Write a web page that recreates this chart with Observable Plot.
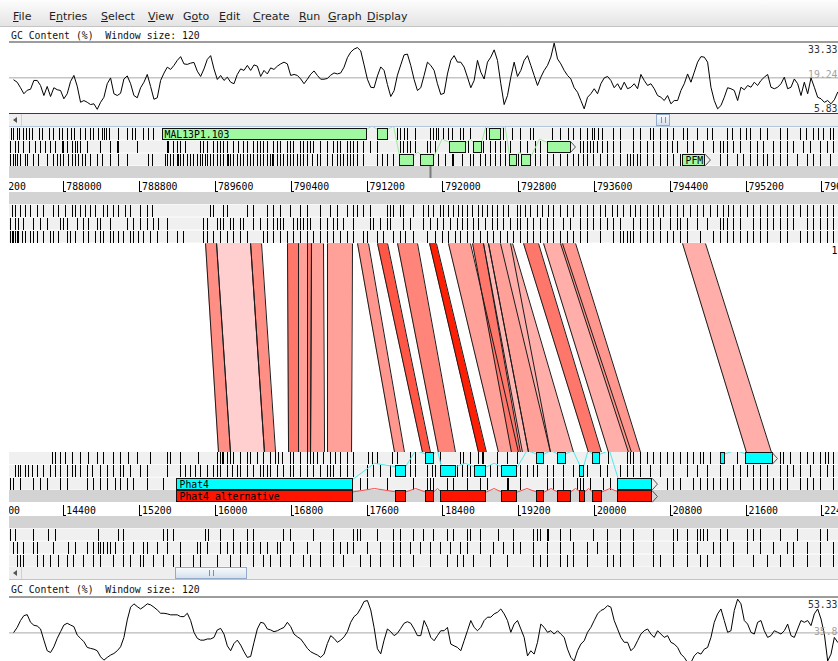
<!DOCTYPE html>
<html>
<head>
<meta charset="utf-8">
<script src="https://cdn.jsdelivr.net/npm/d3@7"></script>
<script src="https://cdn.jsdelivr.net/npm/@observablehq/plot@0.6"></script>
<style>
  html, body { margin:0; padding:0; background:#fff; overflow:hidden; width:838px; height:661px; }
  #root { position:relative; width:838px; height:661px; overflow:hidden; background:#fff; }
  .abs { position:absolute; left:0; }
  #menu { top:0; width:838px; height:27px; background:linear-gradient(#fdfdfd, #e4e4e4); border-bottom:1px solid #c4c4c4; box-sizing:border-box; font-family:"DejaVu Sans"; font-size:11px; color:#1e1e1e; }
  #menu span { position:absolute; top:10px; line-height:13px; letter-spacing:0; white-space:pre; }
  .gclabel { font-family:"DejaVu Sans Mono"; font-size:9.8px; line-height:12px; color:#111; white-space:pre; left:11px; }
  .scroll { left:9px; width:829px; height:13px; background:#eeeeee; border-bottom:1px solid #b4c6dc; box-sizing:border-box; }
  .scroll .btn { position:absolute; left:0; top:0; width:13px; height:12px; border-right:1px solid #c8d2de; box-sizing:border-box; }
  .scroll .btn i { position:absolute; left:4px; top:3px; width:0; height:0; border-top:3px solid transparent; border-bottom:3px solid transparent; border-right:4px solid #555; }
  .thumb { position:absolute; top:0; height:12px; background:linear-gradient(#f7fafd,#d6e0ec); border:1px solid #93abcb; box-sizing:border-box; }
  .grip { position:absolute; top:2px; width:3px; height:6px; border-left:1px solid #7a90ae; border-right:1px solid #7a90ae; }
  svg.plot, svg { display:block; }
</style>
</head>
<body>
<div id="root"></div>
<script>
// ---------------- menu / labels ----------------
const menuItems = ["File","Entries","Select","View","Goto","Edit","Create","Run","Graph","Display"];
const menuMnemonic = [0,1,0,0,1,0,0,0,0,0];
const menuLeft = [13,49,101,148,183,219,253,299,328,367];
const gcTitle = "GC Content (%)  Window size: 120";

// ---------------- views (bp) ----------------
const topView = [787332, 796176];      // MAL13 region shown in the upper sequence
const bottomView = [13732, 22576];     // Phat4 contig shown in the lower sequence
const topTicks = [787200,788000,788800,789600,790400,791200,792000,792800,793600,794400,795200,796000];
const bottomTicks = [13600,14400,15200,16000,16800,17600,18400,19200,20000,20800,21600,22400];
const topMarker = [791870];

// ---------------- GC content (%) ----------------
const gcStep = 35.2;
const gcTopFirst = 787473;
const gcTopLabels = [33.33, 19.24, 5.83];
const gcTop = [
18.4,17.5,15.3,12.9,14.3,14.7,18.2,18.2,16.2,12.2,
15.8,11.8,15.3,14.5,14.2,10.9,12.9,17.8,20.2,15.9,
9.5,10.2,9.5,8.6,8.9,6.7,9.5,11.5,16.9,19.2,
12.9,12.2,13.1,18.8,20.0,16.9,12.2,11.3,15.3,17.5,
20.6,15.8,10.7,11.3,18.2,21.1,23.5,22.6,24.2,26.2,
27.7,24.8,24.6,25.1,25.4,21.9,19.8,22.8,26.6,28.1,
22.8,18.6,20.2,18.2,19.5,17.5,16.9,20.6,22.8,22.2,
24.2,22.2,24.4,23.9,19.8,22.2,20.8,23.2,22.6,23.9,
24.8,25.5,24.8,20.2,20.6,20.2,18.8,16.9,18.7,20.7,
22.0,20.2,18.7,18.7,19.0,20.3,21.2,20.8,21.2,23.5,
27.3,29.5,30.7,31.3,30.0,24.4,18.7,15.5,15.3,20.0,
23.6,22.2,16.6,11.8,14.1,20.3,24.4,28.4,28.7,24.2,
18.6,14.2,
15.3,20.2,25.5,24.2,22.2,16.9,12.6,13.1,20.8,26.2,
28.1,25.5,25.5,23.5,19.5,15.3,18.2,26.2,21.5,18.8,
25.5,27.5,30.4,26.2,16.9,8.6,12.2,19.5,25.5,19.8,
22.2,26.2,28.1,24.2,20.2,16.2,19.5,22.2,24.2,27.5,
33.1,26.8,24.8,22.2,20.2,18.8,15.3,13.5,10.2,6.9,
11.5,12.9,14.9,12.9,16.9,19.2,19.8,18.2,15.3,16.9,
14.5,17.5,14.9,15.5,16.9,14.9,20.6,18.2,16.2,16.9,
14.9,12.2,11.5,10.2,12.2,8.9,10.2,10.2,14.2,16.9,
20.8,17.5,21.5,25.5,27.7,27.5,25.5,15.5,10.2,6.9,
8.2,11.5,15.3,14.9,14.2,10.2,15.5,14.5,16.2,15.5,
17.5,16.2,18.2,19.5,20.6,15.5,14.9,15.5,16.9,19.5,
14.9,15.5,18.8,16.9,12.2,17.5,12.9,19.2,15.5,11.5,
10.9,9.5,10.2,8.9,10.5,13.5];
const gcBottomFirst = 13873;
const gcBottomLabels = [53.33, 35.8, 18.16];
const gcBottom = [
36.1,38.6,42.1,44.6,45.1,41.2,39.7,39.3,37.8,32.1,
26.7,25.8,28.7,33.0,36.4,39.8,40.7,39.8,39.0,34.7,
33.0,31.3,28.4,27.9,27.5,26.7,23.6,21.9,23.3,24.5,
25.3,26.7,28.7,33.5,42.4,48.9,50.6,49.2,48.0,49.2,
50.6,50.1,48.9,47.5,45.8,45.8,45.5,45.0,45.0,45.0,
44.1,44.1,45.8,42.1,36.1,33.0,32.1,32.1,32.7,32.7,
33.5,37.3,38.1,35.2,29.2,26.7,30.4,32.1,29.6,26.2,
23.3,23.8,31.0,37.8,41.2,40.7,37.8,37.3,36.4,36.9,
37.8,38.6,41.2,39.0,35.2,33.8,32.7,30.4,27.9,26.2,
25.3,24.5,23.3,25.0,30.4,34.4,33.0,31.0,32.1,33.8,
36.4,41.2,44.1,45.5,48.4,51.8,52.3,47.5,38.6,27.7,
25.1,32.1,37.8,36.4,34.4,35.6,38.1,40.7,41.5,40.7,
37.8,34.4,
34.4,42.1,38.6,33.5,31.8,34.4,36.9,36.9,38.6,30.1,
29.2,28.4,26.7,31.8,36.9,42.1,38.6,36.9,38.6,42.1,
43.8,43.8,45.5,46.3,48.0,45.5,42.1,36.1,40.3,42.1,
37.8,33.5,24.1,26.7,25.0,31.0,40.3,38.6,36.1,36.9,
35.2,36.9,35.2,33.5,27.5,23.3,21.5,26.7,30.1,31.8,
36.1,38.6,42.1,45.5,47.2,48.0,49.7,48.9,42.1,37.8,
33.5,31.0,31.0,26.7,28.4,31.8,35.2,36.9,37.8,35.2,
33.5,36.9,35.2,33.5,34.4,31.0,30.1,28.4,25.0,23.3,
20.7,20.7,24.1,25.8,25.0,27.5,28.4,33.5,41.2,45.5,
48.0,42.1,36.1,36.9,47.2,53.0,50.6,42.1,40.3,36.1,
35.2,41.2,42.1,36.9,33.5,34.4,36.9,36.1,35.2,36.9,
40.3,34.4,33.5,37.8,42.1,41.2,42.1,39.5,45.5,48.0,
42.9,35.2,21.5,25.0,33.5,31.0];

// ---------------- stop codons: bp offsets from the view start ----------------
const topFwd1 = [116,137,179,201,243,274,306,338,412,443,517,559,623,654,707,749,781,844,897,950,982,1034,1077,1098,1119,1150,1245,1340,1393,1425,1509,1562,1615,4190,4222,4264,4296,4380,4538,4570,4601,4622,4676,4728,4770,4855,4887,4960,5129,5309,5404,5488,5594,5626,5826,5910,5995,6048,6121,6195,6248,6269,6311,6353,6470,6543,6681,6755,6860,6892,6966,7040,7103,7208,7250,7356,7462,7515,7673,7725,7810,7873,7916,8021,8095,8232,8306,8443,8507,8580,8633,8686,8760,8792];
const topFwd2 = [106,158,190,243,306,369,422,475,528,580,654,665,707,760,792,813,844,918,1055,1161,1235,1245,1446,1763,1773,1826,1868,1900,1953,2111,2143,2185,2248,2290,2322,2354,2396,2459,2512,2565,2607,2671,2713,2744,2776,2818,2882,2924,2955,3029,3061,3093,3166,3198,3240,3272,3304,3377,3451,3515,3557,3588,3662,3694,3726,3768,3831,3905,3979,4222,4254,4296,4327,4380,4507,4538,4591,4939,5097,5171,5224,5277,5330,5383,5488,5562,5646,5699,6121,6153,6195,6227,6259,6301,6353,6406,6470,6543,6681,6755,6829,6892,6966,7040,7092,7145,7250,7314,7420,7525,7599,7631,7673,7736,7810,7916,7990,8053,8158,8232,8306,8370,8475,8549,8654,8728,8792];
const topFwd3 = [106,137,158,179,211,264,285,348,401,496,559,602,633,665,718,760,792,823,865,897,950,1024,1077,1161,1245,1340,1562,1604,1741,1763,1794,1826,1868,1879,1900,1932,1974,2005,2037,2079,2111,2132,2164,2185,2216,2248,2290,2322,2354,2396,2406,2427,2459,2501,2533,2565,2607,2639,2671,2713,2744,2776,2818,2850,2871,2882,2924,2955,2987,3029,3061,3093,3135,3166,3198,3240,3293,3346,3377,3451,3504,3557,3588,3620,3662,3694,3726,3768,3831,3979,4032,4085,4148,4622,4697,4770,4781,4876,4960,4992,5066,5119,5171,5224,5277,5330,5467,5646,5699,5773,5836,5910,5984,6048,6100,6153,6195,6259,6332,6406,6470,6543,6617,6649,6681,6723,6755,6829,6892,6966,7040,7103,7177,7599,7673,7778,7841,7916,7990,8053,8095,8158,8232,8306,8412,8517,8580,8654,8760];
const topRev1 = [127,158,211,264,317,391,454,559,612,686,760,792,844,897,950,1003,1087,1129,1193,1245,1319,1372,1478,1551,1604,2216,2248,2354,2396,2607,2671,2818,2882,2955,3061,3166,3240,3377,3483,3557,3662,3726,3768,3831,3905,4085,4116,4148,4222,4254,4359,4465,4517,4570,4644,4676,4728,4781,4834,4876,4929,4982,5045,5087,5140,5193,5245,5309,5361,5456,5488,5541,5594,5668,5720,5784,5836,5910,5984,6048,6121,6195,6259,6332,6385,6459,6512,6575,6649,6702,6755,6829,6892,6945,6998,7071,7145,7208,7282,7356,7420,7493,7567,7631,7683,7736,7810,7884,7947,8021,8095,8158,8232,8306,8370,8443,8517,8580,8654,8728,8792];
const topRev2 = [106,158,190,243,348,422,496,633,665,707,813,876,929,1024,1055,1161,1340,1404,1478,1551,1615,1668,1763,2143,2185,2290,2322,2354,2427,2459,2533,2565,2671,2744,2818,2882,2924,2955,2987,3093,3135,3166,3198,3240,3272,3377,3451,3515,3557,3620,3726,3905,3937,4011,4085,4116,4254,4327,4465,4538,4612,4676,4749,4823,4876,4929,4992,5045,5119,5193,5245,5309,5383,5456,5488,5562,5626,5699,5773,5836,5942,6016,6121,6195,6259,6332,6406,6470,6543,6681,6755,6829,6892,6966,7071,7145,7177,7250,7356,7462,7599,7631,7673,7736,7810,7947,8021,8095,8158,8232,8306,8370,8517,8580,8654,8728,8792];
const topRev3 = [106,127,137,158,179,190,232,264,317,348,391,454,528,559,612,707,739,792,876,929,1003,1055,1087,1161,1193,1245,1298,1372,1404,1456,1509,1583,1657,1763,1868,1932,2143,2185,2248,2322,2396,2459,2533,2607,2776,2818,2882,2955,3029,3093,3166,3240,3304,3377,3451,3515,3588,3662,3726,3831,3873,3979,4043,4148,4222,4275,4359,4507,4591,4665,4728,4802,4855,4929,4992,5066,5140,5203,5277,5351,5414,5488,5562,5626,5699,5773,5836,5910,5984,6048,6121,6195,6332,6470,6543,6575,6617,6649,6681,6755,6829,6892,6966,7040,7103,7177,7250,7388,7525,7599,7673,7736,7810,7884,7947,8021,8095,8232,8306,8443,8517,8580,8654,8728,8792];
const botFwd1 = [549,580,633,686,760,844,929,1024,1087,1193,1266,1351,1446,1583,1763,1794,1900,2090,2290,2322,2343,2354,2396,2427,2459,2533,2607,2639,2713,2776,2850,2903,2934,2976,3061,3093,3166,3240,3272,3304,3346,3409,3483,3536,3588,3662,3726,3884,3926,3979,4137,4190,4327,4380,4644,4855,4887,4960,5045,5087,5097,5245,5351,5456,6417,6617,6649,6681,6755,6829,6892,6966,7040,7103,7177,7250,7314,7388,7420,7493,7778,8232,8264,8338,8443,8517,8580,8654,8707,8739,8792];
const botFwd2 = [158,190,211,264,295,338,391,454,528,580,633,707,760,792,844,918,971,1055,1129,1193,1266,1298,1372,1478,1551,1763,1900,1953,2005,2058,2111,2185,2248,2290,2322,2396,2448,2501,2533,2607,2671,2744,2776,2818,2850,2924,2987,3061,3093,3166,3240,3304,3377,3451,3483,3515,3588,3662,3726,3873,3937,4011,4116,4327,4380,4507,4559,4591,4823,4876,4929,4960,5171,5245,5488,5562,5626,5668,5773,5836,5942,6048,6195,6332,6406,6543,6617,6681,6755,6860,6966,7103,7250,7356,7462,7599,7736,7810,7884,7947,8021,8095,8232,8306,8370,8443,8549,8654,8728,8792];
const botFwd3 = [106,137,211,348,422,496,633,707,918,982,1055,1129,1214,1266,1340,1404,1551,1720,3799,3873,4085,4359,4507,4538,4570,4718,4781,4929,5066,5140,5351,5361,5488,5773,5836,5942,6090,6121,6153,6227,6364,6438,7040,7103,7177,7314,7388,7462,7525,7599,7673,7736,7810,7947,8021,8095,8158,8232,8306,8443,8517,8580,8654,8792];
const botRev1 = [106,158,348,507,580,1034,1245,1298,1720,1763,1826,2164,2195,2322,2459,2607,2671,2987,3061,3304,3515,3726,3768,3799,3979,4148,4222,4359,4465,4570,4718,4781,4929,4960,5066,5256,5414,5626,5668,5699,5773,5784,5910,6016,6259,6406,6543,6681,6892,7103,7145,7250,7356,7388,7420,7462,7599,7673,7884,7947,8021,8232,8412,8654,8728];
const botRev2 = [137,179,243,348,391,559,718,792,918,982,1034,1055,1087,1129,1161,1214,1298,1404,1509,1551,1657,1763,1900,2079,2111,2185,2322,2396,2459,2533,2607,2671,2744,2818,2924,2955,3093,3240,3377,3515,3588,3662,3726,3873,4011,4148,4222,4327,4433,4538,4644,4749,4855,4929,5066,5203,5309,5414,5488,5626,5773,5910,6048,6195,6301,6406,6543,6681,6892,7103,7250,7356,7525,7599,7736,7884,8021,8158,8306,8370,8517,8654,8792];
const botRev3 = [179,211,243,391,454,528,612,707,770,876,982,1055,1193,1298,1372,1478,1509,1615,1720,1826,1900,2037,2111,2290,2427,2533,2671,2776,2850,2955,3061,3198,3272,3377,3515,3620,3799,3905,4011,4148,4222,4359,4538,4718,4823,4887,4992,5171,5351,5626,5699,5773,5910,5984,6048,6195,6406,6470,6543,6681,6892,6966,7103,7250,7388,7462,7599,7736,7947,8095,8232,8370,8517,8654,8792];

// ---------------- features: [start, end, frame track] ----------------
const mal13Exons = [[789042,791195,"f1"],[791311,791417,"f1"],[791543,791701,"f3"],[791775,791912,"f3"],[792071,792250,"f2"],[792324,792409,"f2"],[792503,792609,"f1"],[792704,792778,"f3"],[792841,792936,"f3"],[793105,793348,"f2"]];
const pfmExons = [[794540,794772,"f3"]];
const phat4Exons = [[15600,17447,"f3"],[17911,18007,"f2"],[18218,18302,"f1"],[18386,18534,"f2"],[18735,18861,"f2"],[19020,19188,"f2"],[19389,19473,"f1"],[19611,19695,"f1"],[19853,19885,"f2"],[19980,20064,"f1"],[20254,20613,"f3"]];
const cyan2Exons = [[21341,21373,"f1"],[21605,21880,"f1"]];
const phat4AltExons = [[15600,17447,"fwd"],[17911,18007,"fwd"],[18218,18302,"fwd"],[18386,18861,"fwd"],[19020,19188,"fwd"],[19389,19473,"fwd"],[19611,19748,"fwd"],[19853,19896,"fwd"],[19980,20075,"fwd"],[20254,20613,"fwd"]];

// ---------------- comparison matches ----------------
const matchTopStart    = [789496,789612,789971,790361,790477,790572,790614,790783,791100,791311,791522,791860,792060,792314,792429,792482,792609,792852,793063,793242,794530];
const matchTopEnd      = [789612,789971,790087,790477,790572,790614,790741,791047,791216,791417,791733,791933,792292,792429,792482,792715,792736,793010,793263,793401,794772];
const matchBottomStart = [16033,16159,16518,16772,16877,16972,17004,17183,17891,18186,18354,18777,18988,19125,19220,19305,19537,19938,20149,20360,21605];
const matchBottomEnd   = [16159,16518,16635,16877,16972,17004,17152,17437,17996,18270,18534,18861,19199,19241,19305,19537,19780,20075,20392,20487,21869];
const matchIdentity    = [75,61,75,80,71,80,71,71,73,87,77,99,71,80,66,71,68,80,68,73,68];

// ================= drawing =================
const W = 838;
const root = document.getElementById("root");
function place(el, top) {
  const d = document.createElement("div");
  d.className = "abs"; d.style.top = top + "px";
  d.appendChild(el); root.appendChild(d); return d;
}
const baseStyle = {fontFamily: "DejaVu Sans Mono", fontSize: "9.8px", color: "black", background: "transparent", overflow: "hidden"};

// menu bar
const menu = document.createElement("div");
menu.id = "menu"; menu.className = "abs";
menuItems.forEach((m, i) => {
  const s = document.createElement("span");
  s.style.left = menuLeft[i] + "px";
  const k = menuMnemonic[i];
  s.innerHTML = m.slice(0, k) + "<u>" + m[k] + "</u>" + m.slice(k + 1);
  menu.appendChild(s);
});
root.appendChild(menu);

function label(top) {
  const d = document.createElement("div");
  d.className = "abs gclabel"; d.style.top = top + "px"; d.textContent = gcTitle;
  root.appendChild(d);
}
function scrollbar(top, thumbLeft, thumbWidth) {
  const d = document.createElement("div");
  d.className = "abs scroll"; d.style.top = top + "px";
  d.innerHTML = `<div class="btn"><i></i></div><div class="thumb" style="left:${thumbLeft}px;width:${thumbWidth}px"><div class="grip" style="left:${Math.round(thumbWidth/2-3)}px"></div></div>`;
  root.appendChild(d);
}

function gcPanel({vals, first, view, domain, range, height, labels, labelDy, borderDy}) {
  const pts = vals.map((v, i) => ({x: first + i * gcStep, y: v}));
  const colors = ["#333", "#a3a3a3", "#333"];
  return Plot.plot({
    width: W, height, marginLeft: 9, marginRight: 0, marginTop: 0, marginBottom: 0,
    style: baseStyle,
    x: {domain: view, range: [0, W], axis: null},
    y: {domain, range, axis: null},
    marks: [
      Plot.ruleY([domain[1]], {stroke: "#3a3a3a", dy: borderDy[0]}),
      Plot.ruleY([domain[0]], {stroke: "#3a3a3a", dy: borderDy[1]}),
      Plot.ruleY([labels[1]], {stroke: "#a8a8a8"}),
      Plot.line(pts, {x: "x", y: "y", stroke: "#000", strokeWidth: 1, clip: true}),
      ...labels.map((v, i) => Plot.text([v], {x: view[1], y: d => d, text: d => String(d), textAnchor: "end", dx: -1, dy: labelDy[i], fill: colors[i]}))
    ]
  });
}

function seqPanel({view, L, height, stops, genes, ticks, marker}) {
  const [v0, v1] = view;
  const frameRows = ["f1","f2","f3","r1","r2","r3"];
  const bandRows = ["fwd","rev"];
  const bg = frameRows.map(n => ({y1: L[n][0], y2: L[n][1]}));
  const bands = bandRows.map(n => ({y1: L[n][0], y2: L[n][1]}));
  const stopData = frameRows.flatMap(n => stops[n].map(o => ({x: v0 + o, y1: L[n][0], y2: L[n][1]})));
  const geneMarks = genes.flatMap((g, gi) => {
    const ex = g.exons.map(([s, e, r]) => ({s, e, y1: L[r][0] + 0.5, y2: L[r][1] - 0.5, r}));
    const links = [];
    for (let i = 0; i + 1 < ex.length; i++) {
      const a = ex[i], b = ex[i + 1];
      const peak = Math.min(a.y1, b.y1) - 2.5;
      links.push({k: i, x: a.e, y: a.y1 + 1}, {k: i, x: (a.e + b.s) / 2, y: peak}, {k: i, x: b.s, y: b.y1 + 1});
    }
    const last = ex[ex.length - 1];
    const arrow = g.arrow ? [{x: last.e, y: last.y1}, {x: last.e + 52, y: (last.y1 + last.y2) / 2}, {x: last.e, y: last.y2}] : [];
    const marks = [
      Plot.line(links, {x: "x", y: "y", z: "k", stroke: g.link, strokeWidth: 1, clip: true}),
      Plot.rect(ex, {x1: "s", x2: "e", y1: "y1", y2: "y2", fill: g.fill, stroke: "#111", strokeWidth: 1, shapeRendering: "crispEdges", clip: true})
    ];
    if (arrow.length) marks.push(Plot.line(arrow, {x: "x", y: "y", stroke: "#555", strokeWidth: 1, clip: true}));
    if (g.name) marks.push(Plot.text([ex[0]], {x: "s", y: d => (d.y1 + d.y2) / 2, text: () => g.name, textAnchor: "start", dx: 2, dy: 0.5, clip: true}));
    return marks;
  });
  const r0 = L.ruler[0], r1 = L.ruler[1];
  const marks = [
    Plot.rect(bg, {x1: v0, x2: v1, y1: "y1", y2: "y2", fill: "#f0f0f0", clip: true}),
    Plot.rect(bands, {x1: v0, x2: v1, y1: "y1", y2: "y2", fill: "#d3d3d3", clip: true}),
    Plot.ruleX(stopData, {x: "x", y1: "y1", y2: "y2", stroke: "#000", strokeWidth: 1, shapeRendering: "crispEdges", clip: true}),
    ...(marker ? [Plot.ruleX(marker, {x: d => d, y1: L.f3[1], y2: L.fwd[1], stroke: "#7c7c7c", strokeWidth: 2, clip: true})] : []),
    ...geneMarks,
    Plot.ruleX(ticks, {x: d => d, y1: r0 + 2.5, y2: r1 - 0.5, stroke: "#000", shapeRendering: "crispEdges", clip: true}),
    Plot.ruleY(ticks, {y: r1 - 1, x1: d => d, x2: d => d + 32, stroke: "#000", shapeRendering: "crispEdges", clip: true}),
    Plot.text(ticks, {x: d => d, y: (r0 + r1) / 2 + 1.2, text: d => String(d), textAnchor: "start", dx: 2.5, clip: true})
  ];
  return Plot.plot({
    width: W, height, marginLeft: 9, marginRight: 0, marginTop: 0, marginBottom: 0,
    style: baseStyle,
    x: {domain: view, range: [0, W], axis: null},
    y: {domain: [0, height], range: [0, height], axis: null},
    marks
  });
}

// ---- upper GC plot
label(30);
place(gcPanel({vals: gcTop, first: gcTopFirst, view: topView, domain: [5.83, 33.33], range: [70, 1], height: 73,
  labels: gcTopLabels, labelDy: [7.5, -2.5, -3], borderDy: [-0.5, 2]}), 41);
scrollbar(114, 647, 14);

// ---- upper sequence
const topLayout = {f1:[0.5,12.5], f2:[13.5,25.5], f3:[26.5,38.5], fwd:[39,51], ruler:[51,65], rev:[65,77], r1:[77.5,89.5], r2:[90.5,102.5], r3:[103.5,115.5]};
place(seqPanel({view: topView, L: topLayout, height: 116,
  stops: {f1: topFwd1, f2: topFwd2, f3: topFwd3, r1: topRev1, r2: topRev2, r3: topRev3},
  genes: [
    {name: "MAL13P1.103", exons: mal13Exons, fill: "#a0f8a0", link: "#9ee89e", arrow: true},
    {name: "PFM", exons: pfmExons, fill: "#a0f8a0", link: "#9ee89e", arrow: true}
  ],
  ticks: topTicks, marker: topMarker}), 127);

// ---- comparison
const shift = topView[0] - bottomView[0];
const matches = matchTopStart.map((t0, i) => ({i, t0, t1: matchTopEnd[i], b0: matchBottomStart[i] + shift, b1: matchBottomEnd[i] + shift, id: matchIdentity[i]}));
const matchShape = matches.flatMap(m => [{m: m.i, y: 0, x1: m.t0, x2: m.t1, id: m.id}, {m: m.i, y: 1, x1: m.b0, x2: m.b1, id: m.id}]);
place(Plot.plot({
  width: W, height: 209, margin: 0,
  style: baseStyle,
  x: {domain: topView, range: [0, W], axis: null},
  y: {domain: [0, 1], range: [0, 209], axis: null},
  color: {type: "linear", domain: [60, 100], range: ["#ffd3d3", "#ff1a00"], interpolate: "rgb"},
  marks: [
    Plot.areaX(matchShape, {y: "y", x1: "x1", x2: "x2", z: "m", fill: "id"}),
    Plot.link(matches, {x1: "t0", y1: 0, x2: "b0", y2: 1, stroke: "#1b1b1b", strokeWidth: 1}),
    Plot.link(matches, {x1: "t1", y1: 0, x2: "b1", y2: 1, stroke: "#1b1b1b", strokeWidth: 1}),
    Plot.text(["1"], {x: topView[1], y: 0, text: d => d, textAnchor: "end", dx: -1, dy: 7})
  ]
}), 243);

// ---- lower sequence
const botLayout = {f1:[0,12], f2:[12.8,24.8], f3:[25.6,37.6], fwd:[38,50], ruler:[50,64], rev:[64,76], r1:[76.5,88.5], r2:[89.5,101.5], r3:[102.5,114.5]};
place(seqPanel({view: bottomView, L: botLayout, height: 115,
  stops: {f1: botFwd1, f2: botFwd2, f3: botFwd3, r1: botRev1, r2: botRev2, r3: botRev3},
  genes: [
    {name: "Phat4", exons: phat4Exons, fill: "#00ffff", link: "#4eeaea", arrow: true},
    {name: null, exons: cyan2Exons, fill: "#00ffff", link: "#4eeaea", arrow: true},
    {name: "Phat4 alternative", exons: phat4AltExons, fill: "#ff1400", link: "#ff4a4a", arrow: true}
  ],
  ticks: bottomTicks, marker: null}), 452);
scrollbar(567, 166, 72);

// ---- lower GC plot
label(584);
place(gcPanel({vals: gcBottom, first: gcBottomFirst, view: bottomView, domain: [18.16, 53.33], range: [71, 2], height: 75,
  labels: gcBottomLabels, labelDy: [6, -1.5, -2], borderDy: [-1.5, 2]}), 596);
</script>
</body>
</html>
